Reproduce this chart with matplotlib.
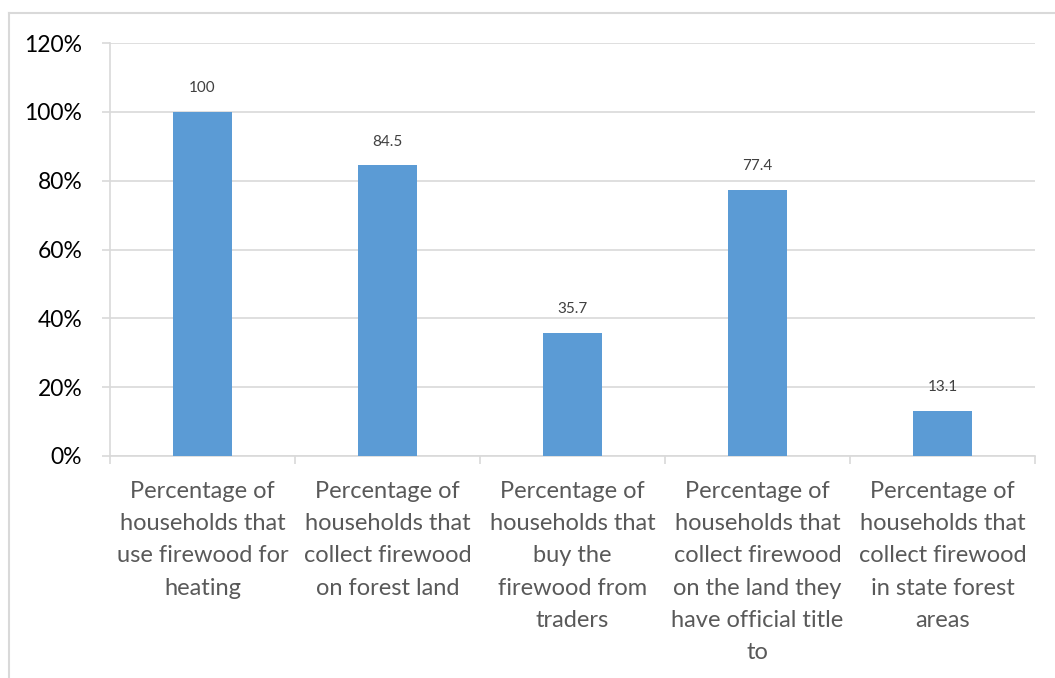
import matplotlib
matplotlib.use("Agg")
import matplotlib.pyplot as plt
from matplotlib.ticker import FuncFormatter, FixedLocator
from matplotlib.lines import Line2D

categories = [
    "Percentage of\nhouseholds that\nuse firewood for\nheating",
    "Percentage of\nhouseholds that\ncollect firewood\non forest land",
    "Percentage of\nhouseholds that\nbuy the\nfirewood from\ntraders",
    "Percentage of\nhouseholds that\ncollect firewood\non the land they\nhave official title\nto",
    "Percentage of\nhouseholds that\ncollect firewood\nin state forest\nareas",
]
values = [100, 84.5, 35.7, 77.4, 13.1]
data_labels = ["100", "84.5", "35.7", "77.4", "13.1"]
yticks = [0, 0.2, 0.4, 0.6, 0.8, 1.0, 1.2]

plt.rcParams['font.family'] = ['Lato', 'DejaVu Sans']

fig = plt.figure(figsize=(10.55, 6.78), dpi=100)
ax = fig.add_axes([110/1055, 1-456/678, 925/1055, (456-43)/678])

x = list(range(len(categories)))
fracs = [v/100 for v in values]
bars = ax.bar(x, fracs, width=0.315, color="#5b9bd5", zorder=3)
for xi, f, lab in zip(x, fracs, data_labels):
    ax.annotate(lab, (xi, f), xytext=(0, 12), textcoords="offset points",
                ha="center", va="bottom", fontsize=11, color="#404040")

ax.set_xlim(-0.5, len(categories)-0.5)
ax.set_ylim(0, 1.2)
ax.set_yticks(yticks)
ax.yaxis.set_major_formatter(FuncFormatter(lambda v, p: f"{v*100:.0f}%"))
ax.grid(axis="y", color="#d9d9d9", linewidth=1.2, zorder=0)
ax.tick_params(axis="y", labelsize=16.5, colors="#d9d9d9", labelcolor="#000000", length=6, width=1.2, pad=14)

ax.set_xticks(x)
ax.set_xticklabels(categories, fontsize=17, color="#595959", linespacing=1.66)
ax.tick_params(axis="x", which="major", length=0, pad=18)
ax.xaxis.set_minor_locator(FixedLocator([i - 0.5 for i in range(len(categories)+1)]))
ax.tick_params(axis="x", which="minor", length=6, width=1.2, color="#d9d9d9")

for s in ["top", "right"]:
    ax.spines[s].set_visible(False)
for s in ["left", "bottom"]:
    ax.spines[s].set_color("#d9d9d9")
    ax.spines[s].set_linewidth(1.2)

# outer chart border
fig.add_artist(Line2D([9/1055, 1], [1-13/678, 1-13/678], color="#d9d9d9", lw=1.5))
fig.add_artist(Line2D([9/1055, 9/1055], [0, 1-13/678], color="#d9d9d9", lw=1.5))

fig.savefig("out.png", dpi=100)
